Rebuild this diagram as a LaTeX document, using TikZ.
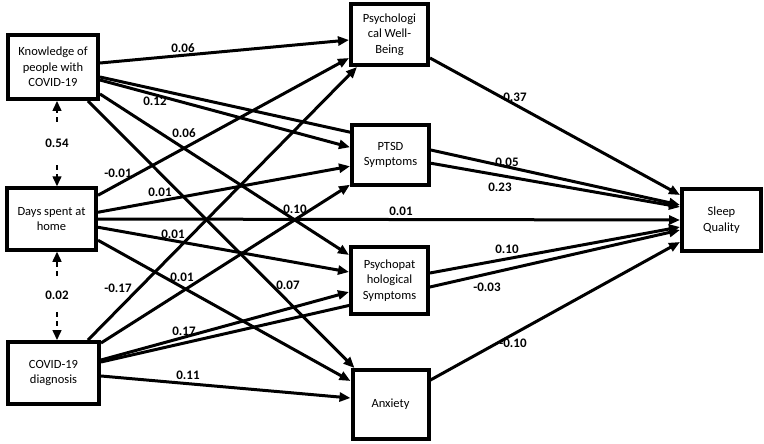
\documentclass[tikz,border=0pt]{standalone}
\usepackage{fontspec}
\setmainfont{Carlito}
\usepackage{tikz}
\usetikzlibrary{calc}
\usetikzlibrary{arrows.meta}
\usetikzlibrary{backgrounds}

\begin{document}
\begin{tikzpicture}[x=1pt,y=-1pt]
    \tikzstyle{box}=[draw, line width=4pt, fill=white, align=center, inner sep=0pt, font=\fontsize{12.5}{15.5}\selectfont]
    \tikzstyle{link}=[line width=3pt, -{Triangle[length=11pt,width=9pt]}]
    \tikzstyle{corr}=[line width=1.5pt, dash pattern=on 5pt off 4pt, -{Triangle[length=10pt,width=9pt]}]
    \tikzstyle{coef}=[inner sep=0pt, font=\fontsize{13}{15}\selectfont\bfseries]
    \useasboundingbox (0,0) rectangle (764,444);

    \node[box, minimum width=90pt, minimum height=64pt] (know) at (53,67) {Knowledge of\\people with\\COVID-19};
    \node[box, minimum width=89pt, minimum height=61.5pt] (days) at (51.5,219) {Days spent at\\home};
    \node[box, minimum width=91pt, minimum height=62pt] (diag) at (53.5,373) {COVID-19\\diagnosis};

    \node[box, minimum width=77pt, minimum height=61pt] (pwb) at (389.5,34.5) {Psychologi\\cal Well-\\Being};
    \node[box, minimum width=77pt, minimum height=59.5pt] (ptsd) at (390.5,155) {PTSD\\Symptoms};
    \node[box, minimum width=77pt, minimum height=67pt] (psyc) at (389.5,280.5) {Psychopat\\hological\\Symptoms};
    \node[box, minimum width=76pt, minimum height=69pt] (anx) at (390.5,404.5) {Anxiety};

    \node[box, minimum width=79pt, minimum height=62pt] (sleep) at (721.5,220) {Sleep\\Quality};

    \begin{scope}[on background layer]
    \draw[link] ($(know.north east)+(0,30)$) -- ($(pwb.north west)+(0,38)$);
    \draw[link] ($(know.north east)+(0,47)$) -- ($(ptsd.north west)+(0,24)$);
    \draw[link] ($(know.north east)+(0,44)$) -- ($(sleep.north west)+(0,18)$);
    \draw[link] ($(know.north east)+(0,61)$) -- ($(psyc.north west)+(0,10)$);
    \draw[link] ($(know.south east)+(-12,0)$) -- ($(anx.north west)+(4,0)$);

    \draw[link] ($(days.north east)+(0,9)$) -- ($(pwb.north west)+(0,56)$);
    \draw[link] ($(days.north east)+(0,26)$) -- ($(ptsd.north west)+(0,43)$);
    \draw[link] (days.east) -- (sleep.west);
    \draw[link] ($(days.north east)+(0,41)$) -- ($(psyc.north west)+(0,27)$);
    \draw[link] ($(days.north east)+(0,54)$) -- ($(anx.north west)+(0,13)$);

    \draw[link] ($(diag.north east)+(-13,0)$) -- ($(pwb.south west)+(8,0)$);
    \draw[link] ($(diag.north east)+(0,3)$) -- ($(ptsd.south west)+(0,-2)$);
    \draw[link] ($(diag.north east)+(0,20)$) -- ($(psyc.north west)+(0,47)$);
    \draw[link] ($(diag.north east)+(0,22)$) -- ($(sleep.north west)+(0,43)$);
    \draw[link] ($(diag.north east)+(0,36)$) -- ($(anx.north west)+(0,30)$);

    \draw[link] ($(pwb.north east)+(0,56)$) -- ($(sleep.north west)+(0,8)$);
    \draw[link] ($(ptsd.north east)+(0,40)$) -- ($(sleep.north west)+(0,20)$);
    \draw[link] ($(psyc.north east)+(0,28)$) -- ($(sleep.north west)+(0,40)$);
    \draw[link] ($(anx.north east)+(0,12)$) -- ($(sleep.north west)+(0,55)$);
    \end{scope}

    \node[coef] (r1) at (57,143) {0.54};
    \node[coef] (r2) at (57,295) {0.02};
    \draw[corr, shorten <=21pt] (r1.center) -- (r1.center |- know.south);
    \draw[corr, shorten <=22pt] (r1.center) -- (r1.center |- days.north);
    \draw[corr, shorten <=19pt] (r2.center) -- (r2.center |- days.south);
    \draw[corr, shorten <=17pt] (r2.center) -- (r2.center |- diag.north);

    \node[coef] at (183,48) {0.06};
    \node[coef] at (155,101) {0.12};
    \node[coef] at (184,133) {0.06};
    \node[coef] at (118,173) {-0.01};
    \node[coef] at (160,192) {0.01};
    \node[coef] at (295,209) {0.10};
    \node[coef] at (401,211) {0.01};
    \node[coef] at (173,234) {0.01};
    \node[coef] at (182,277) {0.01};
    \node[coef] at (288,285) {0.07};
    \node[coef] at (118,288) {-0.17};
    \node[coef] at (184,331) {0.17};
    \node[coef] at (188,375) {0.11};

    \node[coef] at (515,97) {0.37};
    \node[coef] at (507,162) {0.05};
    \node[coef] at (500,187) {0.23};
    \node[coef] at (507,249) {0.10};
    \node[coef] at (487,287) {-0.03};
    \node[coef] at (513,343) {-0.10};
\end{tikzpicture}
\end{document}
